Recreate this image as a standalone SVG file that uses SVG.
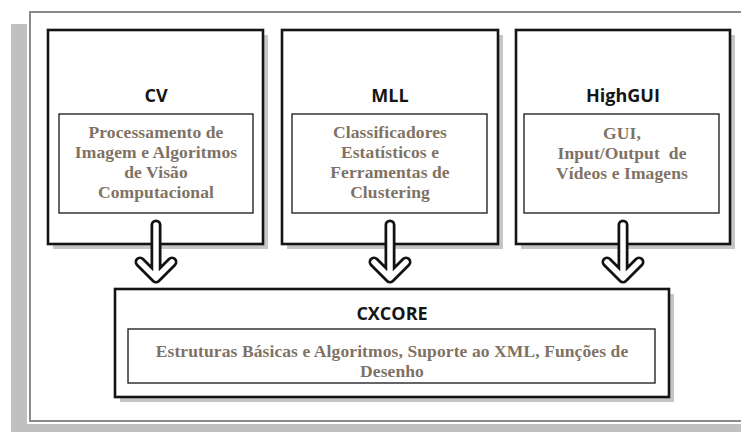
<svg xmlns="http://www.w3.org/2000/svg" width="741" height="432" viewBox="0 0 741 432">
  <style>
    .shadow { fill: #c6c6c6; }
    .box { fill: #ffffff; stroke: #141414; stroke-width: 2.6; }
    .inner { fill: #ffffff; stroke: #262626; stroke-width: 1.4; }
    .title { font-family: "Open Sans", "Liberation Sans", sans-serif; font-weight: bold; font-size: 18px; fill: #151515; text-anchor: middle; }
    .body { font-family: "Liberation Serif", "DejaVu Serif", serif; font-weight: bold; font-size: 17.5px; letter-spacing: 0.1px; fill: #7f7264; text-anchor: middle; white-space: pre; }
    .arrow-out { fill: none; stroke: #121212; stroke-width: 11; stroke-linecap: round; stroke-linejoin: round; }
    .arrow-in { fill: none; stroke: #ffffff; stroke-width: 5.5; stroke-linecap: round; stroke-linejoin: round; }
  </style>
  <defs>
    <path id="down-arrow" d="M0,225 V278 M-16,262 L0,278 L16,262"/>
  </defs>

  <!-- page background and frame -->
  <rect x="0" y="0" width="741" height="432" fill="#ffffff"/>
  <rect x="11" y="24" width="16" height="408" fill="#c0c0c0"/>
  <rect x="11" y="424" width="730" height="8" fill="#c0c0c0"/>
  <path d="M741,12 H30 V421 H741" fill="none" stroke="#8a8a8a" stroke-width="2"/>

  <!-- CV -->
  <g id="cv">
    <rect class="shadow" x="53" y="35" width="215" height="214"/>
    <rect class="box" x="48" y="30" width="215" height="214"/>
    <text class="title" x="156" y="102">CV</text>
    <rect class="inner" x="59" y="114" width="194" height="99"/>
    <text class="body" x="156" y="138">Processamento de</text>
    <text class="body" x="156" y="158">Imagem e Algoritmos</text>
    <text class="body" x="156" y="178">de Visão</text>
    <text class="body" x="156" y="198">Computacional</text>
  </g>

  <!-- MLL -->
  <g id="mll">
    <rect class="shadow" x="287" y="35" width="216" height="214"/>
    <rect class="box" x="282" y="30" width="216" height="214"/>
    <text class="title" x="390" y="102">MLL</text>
    <rect class="inner" x="292" y="114" width="195" height="99"/>
    <text class="body" x="390" y="138">Classificadores</text>
    <text class="body" x="390" y="158">Estatísticos e</text>
    <text class="body" x="390" y="178">Ferramentas de</text>
    <text class="body" x="390" y="198">Clustering</text>
  </g>

  <!-- HighGUI -->
  <g id="highgui">
    <rect class="shadow" x="521" y="35" width="214" height="214"/>
    <rect class="box" x="516" y="30" width="214" height="214"/>
    <text class="title" x="623" y="102">HighGUI</text>
    <rect class="inner" x="524" y="114" width="195" height="99"/>
    <text class="body" x="622" y="139">GUI,</text>
    <text class="body" x="622" y="159">Input/Output  de</text>
    <text class="body" x="622" y="179">Vídeos e Imagens</text>
  </g>

  <!-- CXCORE -->
  <g id="cxcore">
    <rect class="shadow" x="120" y="294" width="554" height="108"/>
    <rect class="box" x="115" y="289" width="554" height="108"/>
    <text class="title" x="392" y="320">CXCORE</text>
    <rect class="inner" x="128" y="329" width="527" height="54"/>
    <text class="body" x="392" y="357">Estruturas Básicas e Algoritmos, Suporte ao XML, Funções de</text>
    <text class="body" x="392" y="377">Desenho</text>
  </g>

  <!-- connectors -->
  <g id="connectors">
    <g transform="translate(156,0)">
      <use href="#down-arrow" class="arrow-out"/>
      <use href="#down-arrow" class="arrow-in"/>
    </g>
    <g transform="translate(390,0)">
      <use href="#down-arrow" class="arrow-out"/>
      <use href="#down-arrow" class="arrow-in"/>
    </g>
    <g transform="translate(623,0)">
      <use href="#down-arrow" class="arrow-out"/>
      <use href="#down-arrow" class="arrow-in"/>
    </g>
  </g>
</svg>
